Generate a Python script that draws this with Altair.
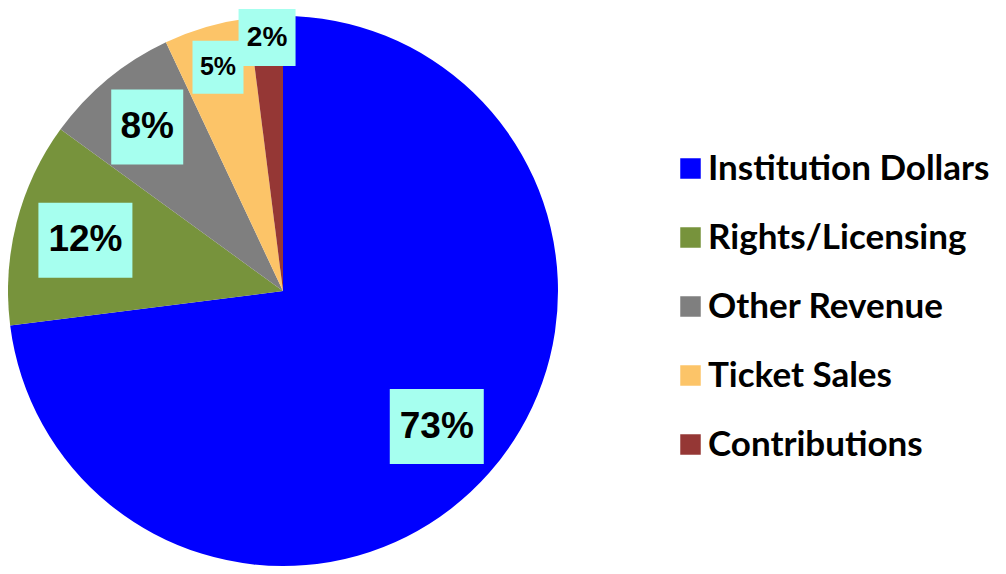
import math
import altair as alt
import pandas as pd

# ---- data ----
categories = ["Institution Dollars", "Rights/Licensing", "Other Revenue", "Ticket Sales", "Contributions"]
shares = [73, 12, 8, 5, 2]
labels = ["73%", "12%", "8%", "5%", "2%"]
colors = ["#0000FF", "#77933C", "#7F7F7F", "#FCC468", "#953735"]

# ---- label layout (styles, not data) ----
label_radius = [205, 204, 213, 233, 254]
label_font = [37, 37, 37, 25, 28]
box_w = [94, 94, 72, 51, 57]
box_h = [75, 75, 75, 53, 57]

W, H = 548, 566
R = 275

total = sum(shares)
rows = []
cum = 0.0
for i, (c, s, l) in enumerate(zip(categories, shares, labels)):
    mid = (cum + s / 2) / total * 2 * math.pi
    cum += s
    cx = label_radius[i] * math.sin(mid)
    cy = label_radius[i] * math.cos(mid)
    rows.append(dict(cat=c, share=s, label=l, order=i,
                     cx=cx, cy=cy, fs=label_font[i],
                     x1=cx - box_w[i] / 2, x2=cx + box_w[i] / 2,
                     y1=cy - box_h[i] / 2, y2=cy + box_h[i] / 2))
df = pd.DataFrame(rows)

xs = alt.Scale(domain=[-W / 2, W / 2], nice=False, zero=False)
ys = alt.Scale(domain=[-H / 2, H / 2], nice=False, zero=False)

base = alt.Chart(df)

pie = base.mark_arc(radius=R, stroke=None).encode(
    theta=alt.Theta("share:Q", stack=True),
    order=alt.Order("order:Q"),
    color=alt.Color("cat:N", sort=categories,
                    scale=alt.Scale(domain=categories, range=colors),
                    legend=alt.Legend(title=None, orient="none", legendX=664, legendY=143,
                                      symbolType="square", symbolSize=420,
                                      symbolStrokeWidth=0,
                                      labelFont="Lato", labelFontWeight="bold",
                                      labelFontSize=35, labelColor="black",
                                      labelOffset=0, rowPadding=33,
                                      labelLimit=400)),
)

boxes = base.mark_rect(color="#A6FFEF").encode(
    x=alt.X("x1:Q", scale=xs, axis=None),
    x2="x2:Q",
    y=alt.Y("y1:Q", scale=ys, axis=None),
    y2="y2:Q",
)

texts = base.mark_text(font="Liberation Sans", fontWeight="bold", color="black",
                       align="center", baseline="middle").encode(
    x=alt.X("cx:Q", scale=xs, axis=None),
    y=alt.Y("cy:Q", scale=ys, axis=None),
    text="label:N",
    size=alt.Size("fs:Q", scale=None, legend=None),
)

chart = alt.layer(pie, boxes, texts).properties(
    width=W, height=H, padding=0
).configure_view(stroke=None)

chart.save("out.html", embed_options={"renderer": "svg", "actions": False})
